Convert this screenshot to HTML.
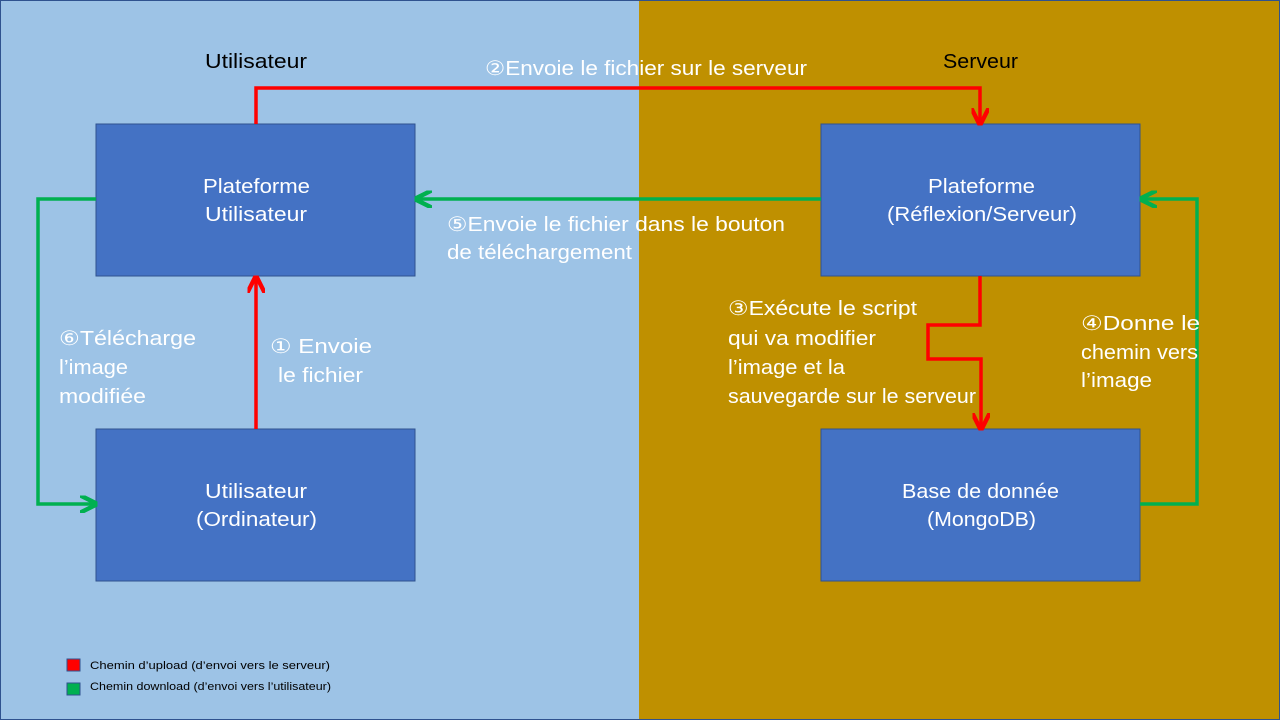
<!DOCTYPE html>
<html><head><meta charset="utf-8"><style>
body{margin:0;width:1280px;height:720px;overflow:hidden}
svg text{font-family:"Liberation Sans","DejaVu Sans",sans-serif}
</style></head><body>
<svg width="1280" height="720" viewBox="0 0 1280 720">
<defs>
<marker id="ar" viewBox="0 0 10 10" refX="8" refY="5" markerWidth="5" markerHeight="5" orient="auto-start-reverse"><path d="M0,0 L10,5 L0,10" fill="none" stroke="#FF0000" stroke-width="2.5"/></marker>
<marker id="ag" viewBox="0 0 10 10" refX="8" refY="5" markerWidth="5" markerHeight="5" orient="auto-start-reverse"><path d="M0,0 L10,5 L0,10" fill="none" stroke="#00B050" stroke-width="2.5"/></marker>
</defs>
<rect x="0" y="0" width="639" height="720" fill="#9DC3E6"/>
<rect x="639" y="0" width="641" height="720" fill="#BF9000"/>
<rect x="0.5" y="0.5" width="1279" height="719" fill="none" stroke="#2F528F"/>
<text x="205" y="68" textLength="102" lengthAdjust="spacingAndGlyphs" font-size="20" fill="#000">Utilisateur</text>
<text x="943" y="68" textLength="75" lengthAdjust="spacingAndGlyphs" font-size="20" fill="#000">Serveur</text>

<g fill="#4472C4" stroke="#2F528F" stroke-width="1">
<rect x="96" y="124" width="319" height="152"/>
<rect x="821" y="124" width="319" height="152"/>
<rect x="96" y="429" width="319" height="152"/>
<rect x="821" y="429" width="319" height="152"/>
</g>
<g fill="#fff" font-size="20">
<text x="203" y="193" textLength="107" lengthAdjust="spacingAndGlyphs">Plateforme</text>
<text x="205" y="221" textLength="102" lengthAdjust="spacingAndGlyphs">Utilisateur</text>
<text x="928" y="193" textLength="107" lengthAdjust="spacingAndGlyphs">Plateforme</text>
<text x="887" y="221" textLength="190" lengthAdjust="spacingAndGlyphs">(Réflexion/Serveur)</text>
<text x="205" y="498" textLength="102" lengthAdjust="spacingAndGlyphs">Utilisateur</text>
<text x="196" y="526" textLength="121" lengthAdjust="spacingAndGlyphs">(Ordinateur)</text>
<text x="902" y="498" textLength="157" lengthAdjust="spacingAndGlyphs">Base de donnée</text>
<text x="927" y="526" textLength="109" lengthAdjust="spacingAndGlyphs">(MongoDB)</text>
</g>

<g fill="none" stroke-width="3.5">
<path d="M256,124 V88 H980 V122" stroke="#FF0000" marker-end="url(#ar)"/>
<path d="M256,429 V279" stroke="#FF0000" marker-end="url(#ar)"/>
<path d="M980,276 V325 H928 V359 H981 V427" stroke="#FF0000" marker-end="url(#ar)"/>
<path d="M821,199 H418" stroke="#00B050" marker-end="url(#ag)"/>
<path d="M96,199 H38 V504 H94" stroke="#00B050" marker-end="url(#ag)"/>
<path d="M1140,504 H1197 V199 H1143" stroke="#00B050" marker-end="url(#ag)"/>
</g>

<g fill="#fff" font-size="20">
<text x="485" y="75" textLength="322" lengthAdjust="spacingAndGlyphs">②Envoie le fichier sur le serveur</text>
<text x="447" y="231" textLength="338" lengthAdjust="spacingAndGlyphs">⑤Envoie le fichier dans le bouton</text>
<text x="447" y="259" textLength="185" lengthAdjust="spacingAndGlyphs">de téléchargement</text>
<text x="270" y="353" textLength="102" lengthAdjust="spacingAndGlyphs">① Envoie</text>
<text x="278" y="382" textLength="85" lengthAdjust="spacingAndGlyphs">le fichier</text>
<text x="59" y="345" textLength="137" lengthAdjust="spacingAndGlyphs">⑥Télécharge</text>
<text x="59" y="374" textLength="69" lengthAdjust="spacingAndGlyphs">l’image</text>
<text x="59" y="403" textLength="87" lengthAdjust="spacingAndGlyphs">modifiée</text>
<text x="728" y="315" textLength="189" lengthAdjust="spacingAndGlyphs">③Exécute le script</text>
<text x="728" y="345" textLength="148" lengthAdjust="spacingAndGlyphs">qui va modifier</text>
<text x="728" y="374" textLength="117" lengthAdjust="spacingAndGlyphs">l’image et la</text>
<text x="728" y="403" textLength="248" lengthAdjust="spacingAndGlyphs">sauvegarde sur le serveur</text>
<text x="1081" y="330" textLength="119" lengthAdjust="spacingAndGlyphs">④Donne le</text>
<text x="1081" y="359" textLength="117" lengthAdjust="spacingAndGlyphs">chemin vers</text>
<text x="1081" y="387" textLength="71" lengthAdjust="spacingAndGlyphs">l’image</text>
</g>

<rect x="67" y="659" width="13" height="12" fill="#FF0000" stroke="#2F528F"/>
<text x="90" y="669" font-size="11" textLength="240" lengthAdjust="spacingAndGlyphs" fill="#000">Chemin d’upload (d’envoi vers le serveur)</text>
<rect x="67" y="683" width="13" height="12" fill="#00B050" stroke="#2F528F"/>
<text x="90" y="690" font-size="11" textLength="241" lengthAdjust="spacingAndGlyphs" fill="#000">Chemin download (d’envoi vers l’utilisateur)</text>
</svg>
</body></html>
